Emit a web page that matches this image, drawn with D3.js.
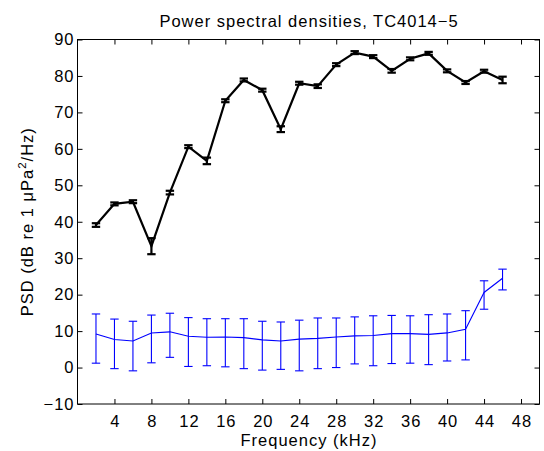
<!DOCTYPE html>
<html>
<head>
<meta charset="utf-8">
<script src="https://cdn.jsdelivr.net/npm/d3@7"></script>
<style>
  html, body { margin: 0; padding: 0; background: #fff; }
  svg { display: block; font-family: "Liberation Sans", Arial, Helvetica, sans-serif; }
</style>
</head>
<body>
<svg id="chart" width="544" height="451"></svg>
<script>
// ---- data ----
const freqs = [2,4,6,8,10,12,14,16,18,20,22,24,26,28,30,32,34,36,38,40,42,44,46];

const blackMean = [39.1,44.9,45.5,33.3,48.0,60.6,56.7,73.2,78.9,76.1,65.4,78.0,77.2,83.1,86.4,85.3,81.4,84.7,86.2,81.4,78.2,81.3,78.9];
const blackErr  = [0.5,0.4,0.4,2.2,0.5,0.4,0.9,0.4,0.4,0.4,0.8,0.4,0.5,0.4,0.4,0.4,0.5,0.4,0.4,0.4,0.4,0.4,0.9];

const blueMean  = [9.2,7.7,7.3,9.5,9.8,8.6,8.3,8.4,8.2,7.6,7.3,7.8,8.0,8.4,8.7,8.8,9.3,9.3,9.1,9.5,10.5,20.6,24.5];
const blueUpper = [14.7,13.3,12.7,14.4,14.9,13.7,13.4,13.4,13.4,12.7,12.5,13.0,13.6,13.6,13.9,14.2,14.3,14.2,14.5,14.7,15.6,23.8,27.0];
const blueLower = [1.2,-0.3,-0.9,1.3,2.8,0.3,0.5,0.2,-0.3,-0.7,-0.5,-0.9,-0.3,0.0,1.0,0.5,1.1,1.2,0.8,1.8,2.1,16.0,21.3];

const xTicks = [4,8,12,16,20,24,28,32,36,40,44,48];
const yTicks = [-10,0,10,20,30,40,50,60,70,80,90];

const titleText = "Power spectral densities, TC4014\u22125";
const xLabel = "Frequency (kHz)";

// ---- layout ----
const L = 77.5, R = 539.5, T = 39.5, B = 404;
const FS = 16.5, LS = 1;
const x = d3.scaleLinear().domain([0, 50]).range([L, R]);
const y = d3.scaleLinear().domain([-10, 90]).range([B, T]);

const svg = d3.select("#chart");
const fmt = d => d < 0 ? "\u2212" + Math.abs(d) : String(d);

// frame
svg.append("rect").attr("x", L).attr("y", T).attr("width", R - L).attr("height", B - T)
  .attr("fill", "none").attr("stroke", "#000").attr("stroke-width", 1);

const tickLen = 5;
const axB = svg.append("g").attr("transform", `translate(0,${B})`)
  .call(d3.axisBottom(x).tickValues(xTicks).tickFormat(fmt).tickSizeInner(-tickLen).tickSizeOuter(0).tickPadding(11));
const axT = svg.append("g").attr("transform", `translate(0,${T})`)
  .call(d3.axisTop(x).tickValues(xTicks).tickFormat("").tickSizeInner(-tickLen).tickSizeOuter(0));
const axL = svg.append("g").attr("transform", `translate(${L},0)`)
  .call(d3.axisLeft(y).tickValues(yTicks).tickFormat(fmt).tickSizeInner(-tickLen).tickSizeOuter(0).tickPadding(3));
const axR = svg.append("g").attr("transform", `translate(${R},0)`)
  .call(d3.axisRight(y).tickValues(yTicks).tickFormat("").tickSizeInner(-tickLen).tickSizeOuter(0));

[axB, axT, axL, axR].forEach(g => {
  g.select(".domain").remove();
  g.selectAll("text").attr("font-size", FS).attr("letter-spacing", LS).attr("fill", "#000")
    .attr("font-family", "Liberation Sans, Arial, sans-serif");
  g.selectAll("line").attr("stroke", "#000");
});
// center bottom labels despite trailing letter spacing
axB.selectAll("text").attr("dx", LS / 2);

// ---- series ----
const blackData = freqs.map((f, i) => ({ f, m: blackMean[i], lo: blackMean[i] - blackErr[i], hi: blackMean[i] + blackErr[i] }));
const blueData = freqs.map((f, i) => ({ f, m: blueMean[i], lo: blueLower[i], hi: blueUpper[i] }));

const line = d3.line().x(d => x(d.f)).y(d => y(d.m));
const capW = 4.2;

function drawSeries(data, color, lw, capLw) {
  const g = svg.append("g");
  g.append("path").datum(data).attr("d", line).attr("fill", "none")
    .attr("stroke", color).attr("stroke-width", lw).attr("stroke-linejoin", "miter");
  const eb = g.selectAll("g.eb").data(data).join("g").attr("class", "eb");
  eb.append("line").attr("x1", d => x(d.f)).attr("x2", d => x(d.f))
    .attr("y1", d => y(d.lo)).attr("y2", d => y(d.hi)).attr("stroke", color).attr("stroke-width", lw);
  eb.append("line").attr("x1", d => x(d.f) - capW).attr("x2", d => x(d.f) + capW)
    .attr("y1", d => y(d.lo)).attr("y2", d => y(d.lo)).attr("stroke", color).attr("stroke-width", capLw);
  eb.append("line").attr("x1", d => x(d.f) - capW).attr("x2", d => x(d.f) + capW)
    .attr("y1", d => y(d.hi)).attr("y2", d => y(d.hi)).attr("stroke", color).attr("stroke-width", capLw);
}

drawSeries(blueData, "#0000ff", 1.1, 1.1);
drawSeries(blackData, "#000000", 2.2, 2.2);

// ---- labels ----
svg.append("text").attr("x", (L + R) / 2 + LS / 2).attr("y", 27).attr("text-anchor", "middle")
  .attr("font-size", FS).attr("letter-spacing", LS).text(titleText);

svg.append("text").attr("x", (L + R) / 2 + LS / 2).attr("y", 446).attr("text-anchor", "middle")
  .attr("font-size", FS).attr("letter-spacing", LS).text(xLabel);

const yl = svg.append("text").attr("transform", `translate(33,${(T + B) / 2}) rotate(-90)`)
  .attr("text-anchor", "middle").attr("font-size", FS).attr("letter-spacing", LS);
yl.append("tspan").text("PSD (dB re 1 \u03bcPa");
yl.append("tspan").attr("font-size", 11.5).attr("dy", -7).text("2");
yl.append("tspan").attr("dy", 7).text("/Hz)");
</script>
</body>
</html>
